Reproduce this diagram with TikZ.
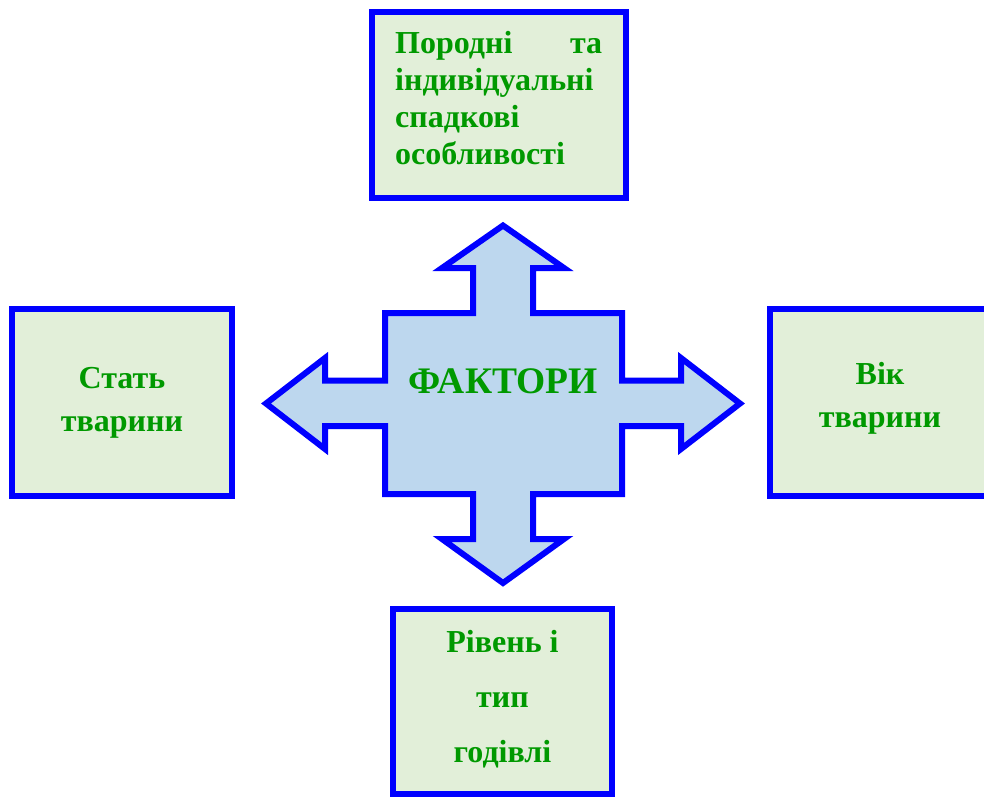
\documentclass[tikz,border=0pt]{standalone}
\usepackage{fontspec}
\setmainfont{Liberation Serif}
\definecolor{bordblue}{RGB}{0,0,255}
\definecolor{boxfill}{HTML}{E2EFD9}
\definecolor{arrfill}{HTML}{BDD7EE}
\definecolor{txtgreen}{RGB}{0,153,0}
\begin{document}
\begin{tikzpicture}[x=1pt,y=-1pt,
  factorbox/.style={draw=bordblue,fill=boxfill,line width=6pt,inner sep=0pt},
  boxtext/.style={text=txtgreen,font=\bfseries\fontsize{32}{37}\selectfont,inner sep=0pt},
  crossarrow/.style={draw=bordblue,fill=arrfill,line width=6pt,line join=miter}]
\useasboundingbox (0,0) rectangle (984,797);
% boxes
\draw[factorbox] (371.5,11.7) rectangle (626,198);
\draw[factorbox] (12,308.7) rectangle (232,496.3);
\draw[factorbox] (770.3,308.7) rectangle (990,496);
\draw[factorbox] (393,608.8) rectangle (612,794);
% cross arrow
\draw[crossarrow] (503,225.5) -- (564,268) -- (533,268) -- (533,313) -- (622,313) -- (622,380.5) -- (681,380.5) -- (681,358) -- (740,403.5) -- (681,449) -- (681,426) -- (622,426) -- (622,494) -- (533,494) -- (533,539) -- (564,539) -- (503,583) -- (442,539) -- (473,539) -- (473,494) -- (385,494) -- (385,426) -- (325,426) -- (325,449) -- (266,403.5) -- (325,358) -- (325,380.5) -- (385,380.5) -- (385,313) -- (473,313) -- (473,268) -- (442,268) -- cycle;
\node[boxtext,font=\bfseries\fontsize{37.5}{40}\selectfont,anchor=base] (factors) at (503,393.3) {ФАКТОРИ};
% texts
\node[boxtext,anchor=north west,text width=207pt,align=left] (toptext) at (395,31) {Породні\hfill та\\індивідуальні\\спадкові\\особливості};
\node[boxtext,font=\bfseries\fontsize{32}{43}\selectfont,anchor=north,align=center] (lefttext) at (122,366.7) {Стать\\тварини};
\node[boxtext,font=\bfseries\fontsize{32}{43}\selectfont,anchor=north,align=center] (righttext) at (880,361.7) {Вік\\тварини};
\node[boxtext,font=\bfseries\fontsize{32}{55}\selectfont,anchor=north,align=center] (bottomtext) at (502.5,630) {Рівень і\\тип\\годівлі};
\end{tikzpicture}
\end{document}
